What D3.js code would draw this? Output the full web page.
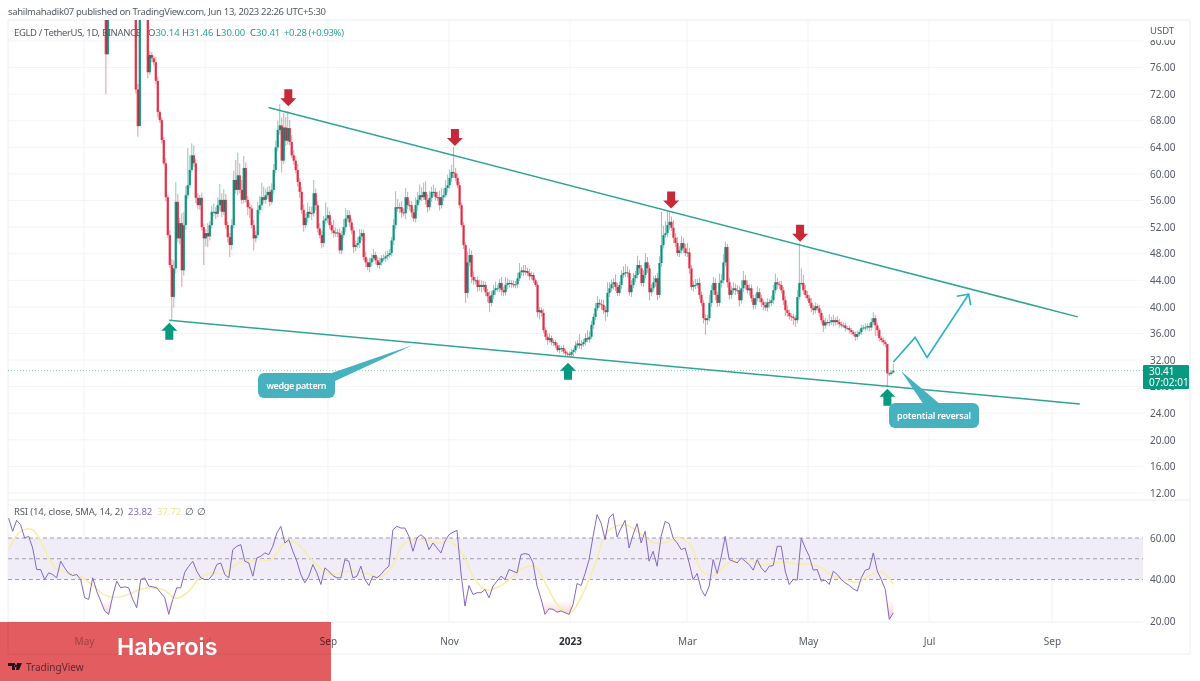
<!DOCTYPE html>
<html>
<head>
<meta charset="utf-8">
<script src="https://cdn.jsdelivr.net/npm/d3@7"></script>
<style>
html, body { margin: 0; padding: 0; background: #fff; overflow: hidden; }
svg { display: block; }
text { font-family: "Noto Sans", sans-serif; }
</style>
</head>
<body>
<svg id="chart" width="1200" height="681"></svg>
<script>
// daily closes, May 10 2022 .. Jun 13 2023 (open = previous close)
var closes = [
125,100,78,92,98,104,108,100,105,112,
107,101,97,103,108,105,96,72.7,67.2,95,
102,100,84,75.3,77.9,77.4,76.8,74,69.3,68.1,
65.1,61.6,56.5,50.8,46.3,41.5,45.8,55.8,50.3,52.6,
45.5,52.3,56.8,58.3,60.6,62.8,61.6,56.4,55.3,56.4,
52,50.3,51.1,50.6,52.3,54.3,54.3,54,55.3,56.1,
54.3,56.1,52.3,50.5,49.3,52.3,59.1,57.6,59.8,57.6,
56.1,60.9,56.1,55,54.8,52.3,50.3,50.8,54.6,55.3,
56.5,56.1,56.8,57.3,55.8,57.6,60.6,64,66.6,67.3,
62,67,65,66.9,64.8,62.8,62,60.6,58.8,57.3,
54.6,52.3,53.4,54.3,54,54.1,57.1,55.3,51.8,50.8,
49.6,53,53.3,53.8,52.3,51.5,51.1,51.2,51.1,48.5,
50.8,52,53.3,53.8,52.7,51.5,49,49.3,49.6,50.6,
51.1,47.5,46.7,46,46.7,47.3,47.8,47,46.3,46.7,
47.3,47.3,47.6,47.8,48.1,50,52.3,55,54.8,55,
54.2,54.1,56.5,55.3,55.3,54.2,53.3,55.3,56.1,56.8,
56.5,57.3,56.1,55,56.4,57.3,57.3,56.5,56.5,55.3,
56.5,56.8,57.9,58.3,59.4,60.3,60.1,59.4,58.3,55.3,
52.3,49.3,42.1,46.7,47.8,44.5,44,44,43,43.3,
43,43.3,42.2,41.6,40.6,41.8,42.5,42.8,42.8,43.6,
42.5,42.2,43.3,43.6,43.6,43.4,43.3,43.4,44.3,45.2,
45.5,45.2,45.4,45.1,44.6,44.8,44,43.3,39.2,39.5,
39.1,36.5,35.5,35,35.3,34.7,34.7,34.2,33.5,33.8,
33.8,33.3,33,32.9,32.8,33.2,33.5,34.2,34.5,34.2,
34.4,34.7,35.3,35.1,35.5,37.3,38.5,39.8,40.6,40.4,
40.3,39.5,39.2,42.1,42.8,43.4,43.7,43,42.1,43.3,
44.8,45.1,45.2,45.1,42.2,43.3,44.3,44.8,46.3,45.8,
43.6,44.8,46.7,45.8,42.2,42.8,43.7,44.3,41.8,46.6,
49.3,50.8,51.1,52.3,52.8,51.9,50.4,49.6,48.1,48.5,
49.6,48.8,48.1,48.2,45.8,43,43.3,43.3,43.6,41.8,
40.6,38.3,38,38.3,40.6,42.5,43.6,41.8,40.6,43.6,
44,46.7,49,43.7,41.8,42.5,42.8,42.5,42.5,41,
42.8,44,43.3,42.5,42.8,41.3,40.3,41.3,42.2,41.3,
40.7,40.3,39.9,40.7,40.6,41,42.5,43.7,43.4,43.3,
42.5,41,39.5,39.1,38.6,38.5,38.3,38,41.5,43.6,
43.6,42.5,41.8,41.3,40.6,39.8,39.5,40.1,39.8,39.1,
38,37.2,37.7,37.6,37.7,38,37.7,38,37.7,37.4,
37.2,37.2,36.8,36.8,36.5,36.2,35.9,35.5,35.9,36.2,
36.8,36.9,36.9,37.1,36.9,37.7,38.3,37.2,36.5,35.3,
35,34.7,34.4,30,29.9,30.14,30.41
];
// distance from the body top up to the high
var wickUp = [
0,0,0,0,0,0,0,0,0,0,
0,0,0,0,0,0,0,0,.8,0,
0,0,0,1.2,.6,.5,.4,.8,.6,.3,
.4,.5,.8,.4,.7,.9,1.2,3,1.2,.8,
1.5,2,1.4,5.6,2.2,1.8,1.5,.6,.7,.4,
.8,.5,.6,1.5,.6,.9,1.2,.7,1.2,2.4,
1,1.6,.9,.5,.6,.9,1.4,3,3.4,1.8,
1.5,1.8,.8,.6,.7,.5,.8,.6,1.2,1.4,
2.2,1.6,1,.8,.9,1,.9,1,1.4,3.2,
1.2,2.2,1.6,2.5,1.2,1,.8,.7,.9,.6,
.7,.8,.6,1.4,.8,1,2,.7,.6,.8,
.6,.7,2.4,1.2,.6,.5,1.6,.8,.5,.7,
.6,1.2,1.6,.8,.7,.6,.5,.6,.9,1.1,
.6,.5,.8,.6,.7,.6,.9,.5,.6,.7,
.5,.6,.8,.7,.6,.5,.9,2.4,1.2,.7,
.9,.6,1.4,.8,.7,.6,.5,1.2,1.2,1.6,
1.2,1.4,1.6,.8,1,.8,1.1,.6,.8,1,
1.4,1,1.2,1.6,1.3,1.1,3.8,.8,.6,.5,
.4,.5,.4,1.6,1,.7,.8,.5,.6,.8,
.7,.6,.5,.5,.7,.6,.8,1,.5,.6,
.9,.5,1.2,.7,.5,.4,.6,.5,.8,1.4,
.5,.8,.9,.5,.6,.5,.4,.3,.4,.5,
.4,.6,.4,.5,.7,.4,.5,.3,.4,.5,
.3,.5,.4,.3,.4,.5,.3,.6,.5,1.4,
.6,.5,.7,1.2,.8,.6,.5,.8,1,.6,
.7,.8,.6,1.6,.9,.7,.6,1.2,.6,.5,
.7,1,1.2,.9,.5,.7,.8,.6,1.4,.7,
.5,.7,1.4,.8,.5,.6,.9,.5,.8,1,
5,1.4,1.8,2.2,1.5,.8,1.2,.7,.9,.6,
1.1,.8,.7,1.4,.7,.5,.6,.9,.6,.8,
.5,.4,.6,.5,1.2,.8,.9,.7,.5,1.4,
.9,1.2,.8,.5,.7,.6,.9,.7,.8,.6,
1.2,1.4,.8,.7,.6,.6,.5,.7,.9,.6,
.5,.4,.5,.6,.5,.7,.8,1.3,.7,.5,
.6,.5,.6,.7,.5,.4,.5,.4,1,6,
2.2,1.2,.8,.6,.5,.7,.5,.6,.4,.5,
.4,.7,.6,.4,1.2,.5,.8,.4,.6,.5,
.4,.5,.4,.3,.4,.3,.3,.4,.5,.4,
.5,.4,.6,.4,.5,.6,.9,.5,.4,.3,
.3,.4,.3,0,.2,.3,1.05
];
// distance from the body bottom down to the low
var wickDown = [
0,0,6,0,0,0,0,0,0,0,
0,0,0,0,0,0,0,.6,1.6,0,
0,0,.6,.9,.4,.6,.5,.5,.8,.4,
.5,.3,.6,.4,.5,3.5,1.6,.8,.6,.9,
2.5,.8,.7,.6,.5,.4,.5,.8,.6,.7,
.5,4,1.2,1.6,.6,.5,.7,.8,.5,.9,
.8,.5,.6,.8,1.8,.7,.5,.6,.8,.5,
.6,.5,.4,1.2,1.4,.5,1.8,.6,.4,.7,
.8,.5,.6,.5,.7,.4,.6,.5,.6,.7,
1.8,.5,.8,.6,.5,.4,.6,.5,.7,.9,
.6,1,.5,.7,.6,.9,.5,.8,.6,.5,
.8,.6,.5,.7,.6,.5,.7,.6,.6,.5,
.6,.4,.8,.5,.7,.6,.9,.6,.5,.7,
.6,.5,.7,.5,.8,.6,.5,.6,.4,.6,
.5,.4,.5,.6,.4,.5,.7,.6,.5,.7,
.8,.5,.9,.6,.8,.7,.5,.6,.8,.5,
.6,.4,.7,.8,.5,.6,.7,.5,.6,.8,
.5,.6,.4,.7,.5,.6,.7,.5,.4,.5,
.3,.6,1.5,.8,.6,.9,.7,.6,.7,.6,
.8,.5,.6,.9,1.4,.5,.6,.7,.5,.6,
.8,.6,.5,.6,.7,.5,.4,.5,.6,.4,
.5,.6,.4,.5,.6,.5,.4,.3,.8,1.1,
.6,.4,.5,.7,.4,.5,.6,.4,.3,.5,
.6,.4,.5,.4,.3,.5,.6,.5,.4,.5,
.6,.4,.5,.4,.5,.3,.6,.5,.4,.5,
.8,.6,1.3,.7,.6,.5,.8,.6,.5,.4,
.6,.5,.6,.7,.5,.7,.5,.6,.5,.8,
.5,.6,.5,.7,1.2,.6,.5,.7,.8,.5,
.6,.5,.4,.6,.7,.5,.8,.6,.5,.6,
.5,.7,.5,.6,.8,.5,.7,.6,.5,.6,
.5,.8,2.2,.7,.5,.6,.7,.8,.6,.5,
.7,.5,.6,.8,.7,.6,.5,.7,.6,.9,
.5,.6,.7,.5,.8,.6,.7,.6,.5,.6,
.7,.8,.5,.6,.7,.5,.6,.5,.7,.6,
.5,.7,.9,.6,.5,.6,1,1,.5,.4,
.4,.6,.5,.4,.5,.6,.7,.5,.4,.6,
.5,1,.5,.4,.5,.4,.6,.5,.4,.5,
.3,.4,.5,.3,.5,.4,.3,.6,.4,.3,
.4,.3,.5,.4,.6,.5,.4,1.6,.9,.5,
.4,.5,.5,2,.3,.2,.14
];

// RSI, one reading every two days or so, Mar 24 2022 .. Jun 13 2023
var rsiValues = [
69.6,63.2,68.5,66.4,60,60.8,55.2,44.8,44.8,40,43.2,42.4,40.8,48.8,45.6,42.9,41.9,42.4,40,31.2,
30.4,40.8,34.4,29.6,24.8,23.2,32,39.2,36,36.5,36,30.4,26.4,40,40.8,36.8,36.5,36,33.6,31.2,
23.2,30.4,36,36,43.5,46.4,48.8,44,40.8,40,40,42.4,47.2,48,42.4,40.8,54.4,56,56.8,48.8,
48,41.6,50.4,51.2,52.8,52,56,62.4,65.6,57.6,59.2,53.6,48.8,42.4,38.4,41.6,47.2,43.2,37.6,45.6,
44,41.9,40.8,40.8,49.6,48.8,40.8,41.6,46.4,40,37.1,41.6,40.8,42.4,44.8,46.4,64,65.6,64.8,64.8,
60.8,53.6,60,61.6,60,54.4,57.6,55.2,52.8,58.4,61.6,62.8,63.7,43.2,27.2,37.1,32.8,33.6,33.6,35.2,
31.2,36.8,39.2,41.6,40,44.8,44,43.2,52,52.5,52,48,36.8,30.7,23.2,25.9,25.6,24.3,24.8,24,
23.2,28,38.1,37.1,42.9,49.6,60.8,71.3,67.2,59.2,69.6,71.7,60.5,64.8,68.5,55.2,61.6,66.9,57.6,63.2,
48.8,53.6,46.4,60.8,68,66.9,60,57.6,54.4,55.2,48,40,42.9,35.2,32,36.8,49.6,42.9,50.9,60.8,
49.6,48.8,48,50.4,48.8,47.2,44.5,49.6,45.6,43.5,46.4,46.7,56,56,44,37.6,40,39.7,60,55.2,
51.2,44.5,44.8,39.2,39.7,37.6,44,42.4,40,38.4,37.1,35.5,34.4,40.8,44.5,45.1,52.8,44,40,35.2,
20.8,23.82
];
// RSI moving average, one reading every six days or so
var smaValues = [
54.4,63.2,64,54.4,45.1,43.5,41.3,37.4,32.6,31.3,32.8,35.2,36,34.9,30.9,34,40.8,43.2,42.9,47.2,
49.3,49.6,49.6,57.1,57.9,51.9,45.6,42.4,43.7,44,42.9,41.1,45.6,56.8,59.2,58.9,57.6,58.1,52,40,
34.9,36.5,40.5,45.3,46.4,37.1,27.2,24,32.8,46.4,62.4,66,65.6,61.3,57.6,57.9,60,56.8,44,41.9,
47.2,49.6,49,46.9,48,48.5,47.2,47.5,45.6,41.6,39.8,38.7,41.9,43.7,37.72
];

var priceTicks = [80, 76, 72, 68, 64, 60, 56, 52, 48, 44, 40, 36, 32, 28, 24, 20, 16, 12];
var rsiTicks = [60, 40, 20];
var monthDates = ["2022-05-01", "2022-07-01", "2022-09-01", "2022-11-01", "2023-01-01", "2023-03-01", "2023-05-01", "2023-07-01", "2023-09-01"];
var monthLabels = ["May", "Jul", "Sep", "Nov", "2023", "Mar", "May", "Jul", "Sep"];

// drawings on the chart: date and price of every anchor
var upperLine = [["2022-08-02", 70.0], ["2023-09-14", 38.5]];
var lowerLine = [["2022-06-13", 38.0], ["2023-09-15", 25.4]];
var forecastLine = [["2023-06-13", 31.7], ["2023-06-24", 35.4], ["2023-06-30", 32.4], ["2023-07-21", 41.9]];
var redArrows = [["2022-08-12", 70.2], ["2022-11-04", 64.2], ["2023-02-21", 54.8], ["2023-04-27", 49.8]];
var greenArrows = [["2022-06-13", 37.6], ["2022-12-31", 31.6], ["2023-06-10", 27.7]];

var svg = d3.select("#chart");
var parseDay = d3.timeParse("%Y-%m-%d");

var x = d3.scaleTime().domain([parseDay("2022-05-01"), parseDay("2023-09-01")]).range([84, 1052]);
var yPrice = d3.scaleLinear().domain([12, 80]).range([493, 41]);
var yRsi = d3.scaleLinear().domain([20, 60]).range([621, 538]);

var paneLeft = 8, paneRight = 1143, paneTop = 20, rsiTop = 500, rsiBottom = 622, axisBottom = 654;
var textColor = "#555a66", gridColor = "#f3f4f7", frameColor = "#eceef3";
var green = "#0f9a85", red = "#e2324a", arrowGreen = "#089981", arrowRed = "#c8293a", lineColor = "#2fa394", cyan = "#27b4c0", calloutColor = "#46b2c0";

// index of a reading -> its date
function dayScale(values, first, last) {
	return d3.scaleTime().domain([0, values.length - 1]).range([parseDay(first), parseDay(last)]);
}
var candleDay = dayScale(closes, "2022-05-10", "2023-06-13");
var rsiDay = dayScale(rsiValues, "2022-03-24", "2023-06-13");
var smaDay = dayScale(smaValues, "2022-03-24", "2023-06-13");

var defs = svg.append("defs");
defs.append("clipPath").attr("id", "priceClip").append("rect")
	.attr("x", paneLeft).attr("y", paneTop).attr("width", paneRight - paneLeft).attr("height", rsiTop - paneTop);
var pink = defs.append("linearGradient").attr("id", "oversold").attr("x1", 0).attr("x2", 0).attr("y1", 0).attr("y2", 1);
pink.append("stop").attr("offset", "0%").attr("stop-color", "#f23645").attr("stop-opacity", 0);
pink.append("stop").attr("offset", "100%").attr("stop-color", "#f23645").attr("stop-opacity", 0.3);

// grid and frame
var grid = svg.append("g");
grid.selectAll(".h").data(priceTicks).enter().append("line")
	.attr("x1", paneLeft).attr("x2", paneRight)
	.attr("y1", function (d) { return yPrice(d); }).attr("y2", function (d) { return yPrice(d); })
	.attr("stroke", gridColor);
grid.selectAll(".v").data(monthDates).enter().append("line")
	.attr("x1", function (d) { return x(parseDay(d)); }).attr("x2", function (d) { return x(parseDay(d)); })
	.attr("y1", paneTop).attr("y2", rsiBottom)
	.attr("stroke", gridColor);
[[paneLeft, paneTop, 1190, paneTop], [paneLeft, rsiTop, 1190, rsiTop], [paneLeft, rsiBottom, paneRight, rsiBottom],
	[paneLeft, axisBottom, 1190, axisBottom], [paneLeft, paneTop, paneLeft, axisBottom], [1190, paneTop, 1190, axisBottom]
].forEach(function (s) {
	grid.append("line").attr("x1", s[0]).attr("y1", s[1]).attr("x2", s[2]).attr("y2", s[3]).attr("stroke", frameColor);
});

// last price dotted line
svg.append("line").attr("x1", paneLeft).attr("x2", paneRight)
	.attr("y1", yPrice(30.41)).attr("y2", yPrice(30.41))
	.attr("stroke", green).attr("stroke-width", 0.8).attr("stroke-opacity", 0.6).attr("stroke-dasharray", "1 2");

// candles
var candles = svg.append("g").attr("clip-path", "url(#priceClip)").style("isolation", "isolate");
var candleData = closes.map(function (c, i) {
	var o = i == 0 ? c : closes[i - 1];
	return {
		x: x(candleDay(i)), open: o, close: c,
		high: Math.max(o, c) + (wickUp[i] || 0),
		low: Math.min(o, c) - (wickDown[i] || 0)
	};
});
function candleColor(d) { return d.close >= d.open ? green : red; }
candles.selectAll(".wick").data(candleData).enter().append("line")
	.attr("x1", function (d) { return d.x; }).attr("x2", function (d) { return d.x; })
	.attr("y1", function (d) { return yPrice(d.high); }).attr("y2", function (d) { return yPrice(d.low); })
	.attr("stroke", candleColor).attr("stroke-opacity", 0.5).attr("stroke-width", 1);
candles.selectAll(".body").data(candleData).enter().append("rect")
	.attr("x", function (d) { return d.x - 1.2; }).attr("width", 2.4)
	.attr("y", function (d) { return yPrice(Math.max(d.open, d.close)); })
	.attr("height", function (d) { return Math.max(1, Math.abs(yPrice(d.open) - yPrice(d.close))); })
	.attr("fill", candleColor).attr("fill-opacity", 0.88)
	.style("mix-blend-mode", "multiply");

// trend lines
var trendPath = d3.line()
	.x(function (d) { return x(parseDay(d[0])); })
	.y(function (d) { return yPrice(d[1]); });
[upperLine, lowerLine].forEach(function (l) {
	svg.append("path").attr("d", trendPath(l)).attr("fill", "none").attr("stroke", lineColor).attr("stroke-width", 1.5);
});
svg.append("path").attr("d", trendPath(forecastLine)).attr("fill", "none").attr("stroke", cyan).attr("stroke-width", 1.6);
// head of the forecast arrow
var tip = forecastLine[forecastLine.length - 1];
var tipX = x(parseDay(tip[0])), tipY = yPrice(tip[1]);
svg.append("path").attr("d", "M" + (tipX - 12) + "," + (tipY + 2) + "L" + tipX + "," + tipY + "L" + (tipX + 2) + "," + (tipY + 11))
	.attr("fill", "none").attr("stroke", cyan).attr("stroke-width", 1.6);

// block arrows: tip sits on the anchor
function blockArrow(d, dir, color) {
	var ax = x(parseDay(d[0])), ay = yPrice(d[1]);
	var pts = [[0, 0], [8, 8 * dir], [4, 8 * dir], [4, 17 * dir], [-4, 17 * dir], [-4, 8 * dir], [-8, 8 * dir]];
	svg.append("polygon")
		.attr("points", pts.map(function (p) { return (ax + p[0]) + "," + (ay + p[1]); }).join(" "))
		.attr("fill", color);
}
redArrows.forEach(function (d) { blockArrow(d, -1, arrowRed); });
greenArrows.forEach(function (d) { blockArrow(d, 1, arrowGreen); });

// callouts
function callout(box, tail, label, labelWidth) {
	svg.append("polygon").attr("points", tail.map(function (p) { return p.join(","); }).join(" ")).attr("fill", calloutColor);
	svg.append("rect").attr("x", box[0]).attr("y", box[1]).attr("width", box[2]).attr("height", box[3]).attr("rx", 6)
		.attr("fill", calloutColor);
	svg.append("text").attr("x", box[0] + box[2] / 2).attr("y", box[1] + box[3] / 2 + 3)
		.attr("text-anchor", "middle").attr("fill", "#fff").attr("font-size", 9).attr("font-weight", 600)
		.attr("textLength", labelWidth).text(label);
}
callout([258, 373, 77, 25], [[326, 375], [335, 381], [413, 345]], "wedge pattern", 60);
callout([889, 403, 90, 25], [[924, 405], [941, 405], [901, 371]], "potential reversal", 74);

// RSI pane
svg.append("rect").attr("x", paneLeft).attr("width", paneRight - paneLeft)
	.attr("y", yRsi(60)).attr("height", yRsi(40) - yRsi(60)).attr("fill", "#f0edf9");
[60, 50, 40].forEach(function (v) {
	svg.append("line").attr("x1", paneLeft).attr("x2", paneRight).attr("y1", yRsi(v)).attr("y2", yRsi(v))
		.attr("stroke", "#8d8a99").attr("stroke-width", 0.8).attr("stroke-dasharray", "4 3");
});
var oversold = d3.area()
	.x(function (d, i) { return x(rsiDay(i)); })
	.y0(yRsi(30))
	.y1(function (d) { return yRsi(Math.min(d, 30)); });
svg.append("path").attr("d", oversold(rsiValues)).attr("fill", "url(#oversold)");
var smaLine = d3.line()
	.x(function (d, i) { return x(smaDay(i)); })
	.y(function (d) { return yRsi(d); })
	.curve(d3.curveCatmullRom);
svg.append("path").attr("d", smaLine(smaValues)).attr("fill", "none").attr("stroke", "#f8eda6").attr("stroke-width", 1.6);
var rsiLine = d3.line()
	.x(function (d, i) { return x(rsiDay(i)); })
	.y(function (d) { return yRsi(d); });
svg.append("path").attr("d", rsiLine(rsiValues)).attr("fill", "none").attr("stroke", "#8468c4").attr("stroke-width", 1);

// axes
function styleAxis(g) {
	g.select(".domain").remove();
	g.selectAll("line").remove();
	g.selectAll("text").attr("fill", textColor).style("font-family", "'Noto Sans', sans-serif");
}
var priceAxis = svg.append("g").attr("transform", "translate(" + paneRight + ",0)")
	.call(d3.axisRight(yPrice).tickValues(priceTicks).tickFormat(d3.format(".2f")).tickPadding(7).tickSize(0))
	.attr("font-size", 10).call(styleAxis);
var rsiAxis = svg.append("g").attr("transform", "translate(" + paneRight + ",0)")
	.call(d3.axisRight(yRsi).tickValues(rsiTicks).tickFormat(d3.format(".2f")).tickPadding(7).tickSize(0))
	.attr("font-size", 10).call(styleAxis);
var timeAxis = svg.append("g").attr("transform", "translate(0," + (rsiBottom + 13) + ")")
	.call(d3.axisBottom(x).tickValues(monthDates.map(parseDay)).tickSize(0).tickPadding(3)
		.tickFormat(function (d, i) { return monthLabels[i]; }))
	.attr("font-size", 10).call(styleAxis);
timeAxis.selectAll("text").each(function (d, i) {
	if (monthLabels[i] == "2023") d3.select(this).attr("font-weight", 700).attr("fill", "#2a2e39");
	// these two sit under the banner and only show faintly through it
	if (i == 0) d3.select(this).attr("fill", "#b5b5b5");
	if (i == 1) d3.select(this).attr("fill", "#dcdcdc");
});

// top of the price scale is cut off by the currency label
svg.append("rect").attr("x", 1146).attr("y", paneTop + 1).attr("width", 43).attr("height", 19).attr("fill", "#fff");
svg.append("text").attr("x", 1150).attr("y", 34).attr("font-size", 9.5).attr("fill", textColor).text("USDT");

// last price tag
svg.append("rect").attr("x", 1143).attr("y", 365).attr("width", 46).attr("height", 24).attr("rx", 1).attr("fill", "#089981");
svg.append("text").attr("x", 1149).attr("y", 375).attr("font-size", 10).attr("fill", "#fff").text("30.41");
svg.append("text").attr("x", 1149).attr("y", 386).attr("font-size", 10).attr("fill", "#fff").text("07:02:01");

// texts on top
svg.append("text").attr("x", 8).attr("y", 15).attr("font-size", 9.5).attr("fill", textColor)
	.attr("textLength", 318).text("sahilmahadik07 published on TradingView.com, Jun 13, 2023 22:26 UTC+5:30");
svg.append("text").attr("x", 14).attr("y", 36).attr("font-size", 9.5).attr("fill", textColor)
	.attr("textLength", 127).text("EGLD / TetherUS, 1D, BINANCE");
[["O", "30.14", 148], ["H", "31.46", 182], ["L", "30.00", 216], ["C", "30.41", 250]].forEach(function (t) {
	var item = svg.append("text").attr("x", t[2]).attr("y", 36).attr("font-size", 9.5);
	item.append("tspan").attr("fill", textColor).text(t[0]);
	item.append("tspan").attr("fill", "#26a69a").text(t[1]);
});
svg.append("text").attr("x", 284).attr("y", 36).attr("font-size", 9.5).attr("fill", "#26a69a")
	.attr("textLength", 60).text("+0.28 (+0.93%)");

svg.append("text").attr("x", 14).attr("y", 515).attr("font-size", 9.5).attr("fill", textColor)
	.attr("textLength", 109).text("RSI (14, close, SMA, 14, 2)");
svg.append("text").attr("x", 128).attr("y", 515).attr("font-size", 9.5).attr("fill", "#8468c4").text("23.82");
svg.append("text").attr("x", 157).attr("y", 515).attr("font-size", 9.5).attr("fill", "#eee39a").text("37.72");
svg.append("text").attr("x", 185).attr("y", 515).attr("font-size", 9.5).attr("fill", textColor).text("∅");
svg.append("text").attr("x", 197).attr("y", 515).attr("font-size", 9.5).attr("fill", textColor).text("∅");

// TradingView mark
svg.append("path").attr("d", "M8,663h7v7h-3v-4h-4zM17,663h5l-3,7h-3zM15.5,664.5a1.2,1.2 0 1 0 .01,0z").attr("fill", "#2a2e39");
svg.append("text").attr("x", 26).attr("y", 671).attr("font-size", 10).attr("fill", "#6a6f7c").text("TradingView");

// banner over the bottom left corner
svg.append("rect").attr("x", 0).attr("y", 622).attr("width", 331).attr("height", 59)
	.attr("fill", "#e35c5f").style("mix-blend-mode", "multiply");
svg.append("text").attr("x", 117).attr("y", 655).attr("font-size", 23.2).attr("font-weight", 600).attr("fill", "#fff")
	.style("font-family", "Inter, sans-serif").text("Haberois");
</script>
</body>
</html>
